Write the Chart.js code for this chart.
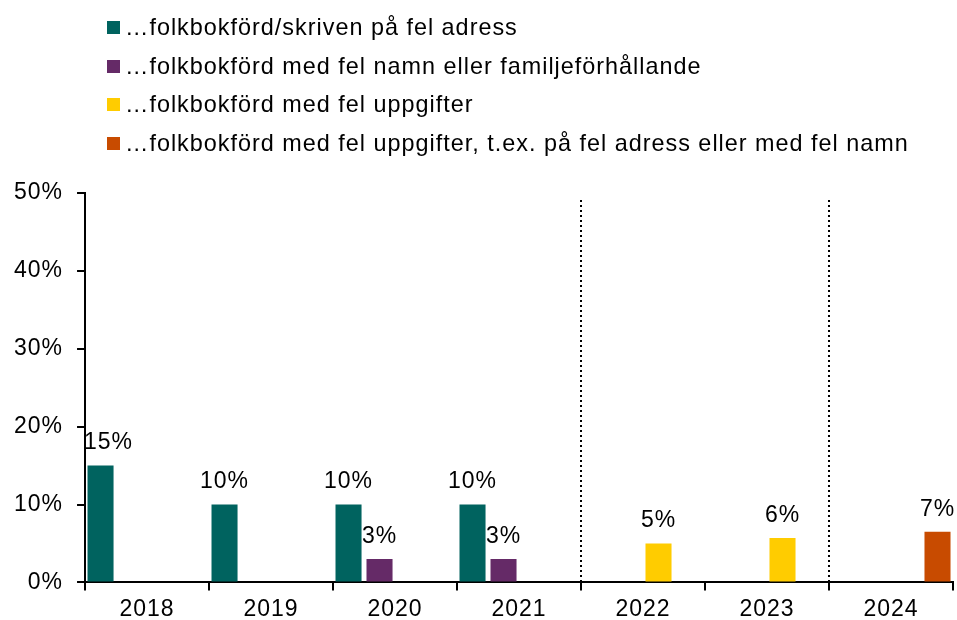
<!DOCTYPE html>
<html>
<head>
<meta charset="utf-8">
<script src="https://cdn.jsdelivr.net/npm/chart.js@4"></script>
<style>
  html, body { margin: 0; padding: 0; background: #fff; }
  #wrap { position: relative; width: 957px; height: 620px; }
  #legend { position: absolute; left: 107px; top: 8px; font-family: "Liberation Sans", Arial, sans-serif; font-size: 23.4px; letter-spacing: 1px; color: #000; }
  #legend div { height: 38.7px; line-height: 38.7px; white-space: nowrap; }
  #legend span { display: inline-block; width: 13px; height: 13px; margin-right: 5px; vertical-align: 1px; }
</style>
</head>
<body>
<div id="wrap">
  <canvas id="chart" width="957" height="620"></canvas>
  <div id="legend"></div>
</div>
<script>
const years = ['2018', '2019', '2020', '2021', '2022', '2023', '2024'];
const seriesNames = [
  '…folkbokförd/skriven på fel adress',
  '…folkbokförd med fel namn eller familjeförhållande',
  '…folkbokförd med fel uppgifter',
  '…folkbokförd med fel uppgifter, t.ex. på fel adress eller med fel namn'
];
const adress = [15, 10, 10, 10, null, null, null];
const namn = [null, null, 3, 3, null, null, null];
const uppgifter = [null, null, null, null, 5, 5.7, null];
const uppgifterExempel = [null, null, null, null, null, null, 6.5];
const colors = ['#00635F', '#652A67', '#FFCC00', '#C84B00'];
const dividers = [3.5, 5.5];

const font = "'Liberation Sans', Arial, sans-serif";

// legend
const legend = document.getElementById('legend');
seriesNames.forEach(function(name, i) {
  const row = document.createElement('div');
  row.innerHTML = '<span style="background:' + colors[i] + '"></span>' + name;
  legend.appendChild(row);
});

// a little letter spacing like the original
const spacing = {
  id: 'spacing',
  beforeInit(chart) { chart.ctx.letterSpacing = '1px'; },
  beforeDraw(chart) { chart.ctx.letterSpacing = '1px'; }
};

const barLabels = {
  id: 'barLabels',
  afterDatasetsDraw(chart) {
    const ctx = chart.ctx;
    const area = chart.chartArea;
    ctx.save();
    ctx.font = '23px ' + font;
    ctx.fillStyle = '#000';
    ctx.textAlign = 'center';
    ctx.textBaseline = 'bottom';
    chart.data.datasets.forEach(function(ds, di) {
      const meta = chart.getDatasetMeta(di);
      meta.data.forEach(function(bar, i) {
        const v = ds.data[i];
        if (v === null) return;
        const txt = Math.round(v) + '%';
        const w = ctx.measureText(txt).width;
        // keep the label off the y axis
        const x = Math.max(bar.x, area.left + w / 2 - 1);
        ctx.fillText(txt, x, bar.y - 11);
      });
    });
    ctx.restore();
  }
};

const dottedLines = {
  id: 'dottedLines',
  afterDraw(chart) {
    const ctx = chart.ctx;
    const x = chart.scales.x;
    const area = chart.chartArea;
    ctx.save();
    ctx.strokeStyle = '#000';
    ctx.lineWidth = 2;
    ctx.setLineDash([2, 3]);
    dividers.forEach(function(d) {
      const px = Math.round((x.getPixelForValue(Math.floor(d)) + x.getPixelForValue(Math.ceil(d))) / 2);
      ctx.beginPath();
      ctx.moveTo(px, area.top + 7);
      ctx.lineTo(px, area.bottom);
      ctx.stroke();
    });
    ctx.restore();
  }
};

const allSeries = [adress, namn, uppgifter, uppgifterExempel];

new Chart(document.getElementById('chart').getContext('2d'), {
  type: 'bar',
  data: {
    labels: years,
    datasets: allSeries.map(function(d, i) {
      return {
        label: seriesNames[i],
        data: d,
        backgroundColor: colors[i],
        categoryPercentage: 1.0,
        barPercentage: 0.84
      };
    })
  },
  options: {
    responsive: false,
    animation: false,
    layout: { padding: { top: 193, right: 4, left: 3, bottom: -8 } },
    plugins: {
      legend: { display: false },
      tooltip: { enabled: false }
    },
    scales: {
      x: {
        offset: true,
        grid: {
          offset: true,
          drawOnChartArea: false,
          drawTicks: true,
          tickLength: 8,
          color: '#000',
          lineWidth: 2
        },
        border: { display: true, color: '#000', width: 2 },
        ticks: { color: '#000', font: { family: font, size: 23 }, padding: 5 }
      },
      y: {
        min: 0,
        max: 50,
        grid: {
          drawOnChartArea: false,
          drawTicks: true,
          tickLength: 8,
          color: '#000',
          lineWidth: 2
        },
        border: { display: true, color: '#000', width: 2 },
        ticks: {
          stepSize: 10,
          color: '#000',
          font: { family: font, size: 23 },
          padding: 14,
          callback: function(v) { return v + '%'; }
        }
      }
    }
  },
  plugins: [spacing, barLabels, dottedLines]
});
</script>
</body>
</html>
